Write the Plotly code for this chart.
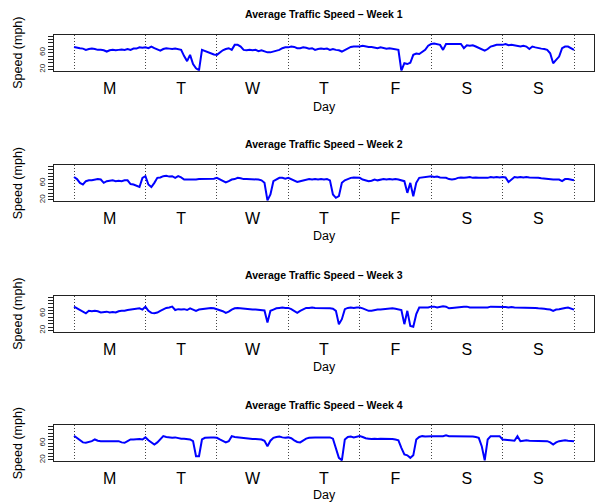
import numpy as np
import plotly.graph_objects as go

day_labels = ["M", "T", "W", "T", "F", "S", "S"]
day_bounds = [0, 1, 2, 3, 4, 5, 6, 7]
titles = ["Average Traffic Speed \u2013 Week 1", "Average Traffic Speed \u2013 Week 2",
          "Average Traffic Speed \u2013 Week 3", "Average Traffic Speed \u2013 Week 4"]
y_tick_vals = [20, 28, 36, 44, 52, 60, 68, 76, 84, 92, 100]
y_tick_text = ["20", "", "", "", "", "60", "", "", "", "", ""]
samples_per_day = 24

# hourly average speed (mph), 7 days + closing point
week1 = [
    74, 72, 71, 70, 67, 69, 70, 69, 67, 67, 66, 63, 66, 67, 66, 67, 68, 67, 69, 67, 70, 70, 73, 72,
    73, 71, 75, 71, 67, 65, 69, 71, 70, 69, 70, 69, 67, 52, 40, 55, 33, 23, 18, 67, 64, 62, 58, 56,
    55, 61, 66, 69, 71, 67, 79, 79, 75, 67, 66, 67, 66, 67, 64, 66, 63, 61, 61, 63, 64, 67, 71, 73,
    73, 75, 74, 71, 71, 73, 72, 70, 71, 67, 69, 70, 69, 70, 67, 69, 67, 66, 63, 67, 71, 74, 75, 75,
    75, 77, 75, 74, 74, 73, 71, 73, 71, 70, 71, 70, 69, 67, 17, 35, 33, 36, 55, 58, 57, 62, 67, 77,
    81, 82, 81, 79, 67, 81, 81, 81, 81, 82, 81, 71, 78, 77, 78, 75, 71, 67, 65, 69, 75, 77, 79, 79,
    79, 81, 78, 79, 78, 77, 75, 77, 75, 69, 75, 73, 71, 70, 69, 67, 59, 35, 43, 51, 71, 75, 75, 71,
    67]
week2 = [
    75, 70, 61, 57, 65, 67, 67, 69, 70, 69, 61, 65, 66, 67, 65, 66, 65, 67, 67, 58, 57, 54, 51, 73,
    77, 57, 51, 61, 73, 74, 77, 78, 76, 77, 73, 77, 74, 69, 69, 68, 69, 69, 70, 70, 70, 71, 70, 71,
    73, 69, 65, 62, 65, 69, 70, 73, 72, 70, 70, 70, 70, 69, 69, 67, 61, 19, 33, 65, 69, 73, 73, 71,
    73, 69, 65, 63, 65, 67, 69, 70, 69, 70, 69, 70, 69, 70, 67, 33, 25, 29, 61, 67, 70, 73, 74, 73,
    73, 69, 67, 65, 66, 69, 67, 69, 70, 69, 70, 69, 70, 69, 67, 65, 37, 61, 29, 61, 73, 74, 74, 76,
    77, 75, 76, 74, 73, 73, 70, 69, 70, 73, 74, 73, 74, 75, 73, 74, 73, 73, 74, 73, 75, 74, 75, 74,
    75, 74, 63, 69, 75, 74, 75, 74, 75, 74, 74, 73, 73, 72, 71, 70, 70, 69, 69, 69, 65, 70, 70, 69,
    67]
week3 = [
    77, 73, 69, 66, 61, 67, 66, 67, 66, 63, 64, 65, 63, 64, 63, 66, 67, 67, 69, 70, 70, 71, 73, 70,
    77, 67, 62, 61, 63, 67, 71, 74, 75, 77, 69, 71, 70, 71, 69, 73, 70, 67, 70, 71, 72, 73, 74, 73,
    71, 69, 66, 62, 65, 70, 73, 74, 73, 72, 71, 71, 70, 70, 69, 69, 68, 39, 67, 70, 73, 74, 75, 74,
    74, 71, 67, 62, 67, 71, 74, 74, 75, 74, 74, 74, 73, 74, 73, 72, 67, 35, 47, 71, 74, 75, 74, 75,
    75, 73, 70, 67, 67, 69, 70, 70, 71, 72, 73, 73, 72, 71, 69, 35, 67, 31, 29, 59, 75, 75, 75, 75,
    77, 77, 75, 77, 78, 77, 73, 74, 75, 75, 77, 77, 77, 75, 75, 75, 74, 75, 75, 75, 77, 77, 77, 77,
    77, 76, 75, 76, 75, 75, 74, 75, 75, 74, 74, 74, 73, 73, 72, 71, 70, 67, 70, 71, 73, 74, 75, 73,
    70]
week4 = [
    78, 73, 66, 62, 61, 63, 65, 69, 66, 65, 65, 66, 65, 66, 65, 65, 62, 61, 65, 69, 69, 70, 70, 69,
    74, 67, 62, 57, 62, 69, 77, 75, 74, 73, 74, 72, 71, 71, 70, 69, 65, 29, 29, 69, 73, 74, 74, 74,
    73, 69, 65, 62, 65, 77, 75, 74, 74, 73, 72, 71, 70, 70, 69, 69, 66, 53, 66, 73, 75, 76, 74, 73,
    74, 72, 67, 63, 62, 67, 71, 73, 74, 74, 74, 74, 74, 74, 74, 71, 45, 25, 19, 69, 75, 76, 74, 76,
    77, 75, 72, 71, 70, 71, 70, 71, 71, 70, 71, 70, 69, 67, 49, 33, 31, 25, 31, 69, 75, 77, 76, 77,
    77, 77, 77, 77, 77, 79, 77, 77, 77, 76, 77, 76, 76, 76, 76, 75, 73, 53, 19, 69, 77, 77, 77, 77,
    69, 68, 67, 67, 66, 77, 65, 66, 67, 66, 66, 66, 66, 65, 65, 65, 62, 57, 62, 65, 66, 67, 66, 65,
    65]

weeks = [week1, week2, week3, week4]

W, H = 598, 503
FONT = "Liberation Sans, Arial, Helvetica, sans-serif"
box_left, box_right = 54, 594
box_tops = [35, 166, 297, 427]
box_h = 36
title_y = [14, 145, 276, 407]
xlab_y = [107, 237, 368, 497]

fig = go.Figure()
layout = dict(
    width=W, height=H, margin=dict(l=0, r=0, t=0, b=0),
    paper_bgcolor="white", plot_bgcolor="white",
    font=dict(family=FONT, color="black"),
    showlegend=False, annotations=[],
)
xdom = [box_left / W, box_right / W]
for k, w in enumerate(weeks):
    sfx = "" if k == 0 else str(k + 1)
    xa, ya = "x" + sfx, "y" + sfx
    x = np.arange(len(w)) / samples_per_day
    fig.add_trace(go.Scatter(x=x, y=w, mode="lines",
                             line=dict(color="#0000ff", width=2),
                             xaxis=xa, yaxis=ya, hoverinfo="skip"))
    top, bot = box_tops[k], box_tops[k] + box_h
    ydom = [1 - bot / H, 1 - top / H]
    layout["xaxis" + sfx] = dict(
        domain=xdom, anchor=ya, range=[-0.28, 7.28],
        tickmode="array", tickvals=[d + 0.5 for d in day_bounds[:-1]], ticktext=day_labels,
        ticks="outside", ticklen=3, tickcolor="rgba(0,0,0,0)",
        tickfont=dict(size=16, family=FONT, color="black"),
        showline=True, mirror=True, linecolor="#222", linewidth=1.2,
        showgrid=False, zeroline=False, fixedrange=True,
        minor=dict(tickmode="array", tickvals=day_bounds, showgrid=True,
                   griddash="1px,2px", gridcolor="#444", gridwidth=1, ticks=""),
    )
    layout["yaxis" + sfx] = dict(
        domain=ydom, anchor=xa, range=[17, 103],
        tickmode="array", tickvals=y_tick_vals, ticktext=y_tick_text,
        ticks="outside", ticklen=5, tickcolor="#222", tickwidth=1,
        tickangle=-90, tickfont=dict(size=8, family=FONT, color="#222"),
        showline=True, mirror=True, linecolor="#222", linewidth=1.2,
        showgrid=False, zeroline=False, fixedrange=True,
    )
    layout["annotations"] += [
        dict(text="<b>" + titles[k] + "</b>", xref="paper", yref="paper",
             x=(box_left + box_right) / 2 / W, y=1 - title_y[k] / H,
             xanchor="center", yanchor="middle", showarrow=False,
             font=dict(size=10.5, family=FONT, color="black")),
        dict(text="Day", xref="paper", yref="paper",
             x=(box_left + box_right) / 2 / W, y=1 - xlab_y[k] / H,
             xanchor="center", yanchor="middle", showarrow=False,
             font=dict(size=12.5, family=FONT, color="black")),
        dict(text="Speed (mph)", xref="paper", yref="paper",
             x=18 / W, y=1 - (top + box_h / 2) / H, textangle=-90,
             xanchor="center", yanchor="middle", showarrow=False,
             font=dict(size=12.5, family=FONT, color="black")),
    ]

fig.update_layout(**layout)
fig.write_html("out.html")
